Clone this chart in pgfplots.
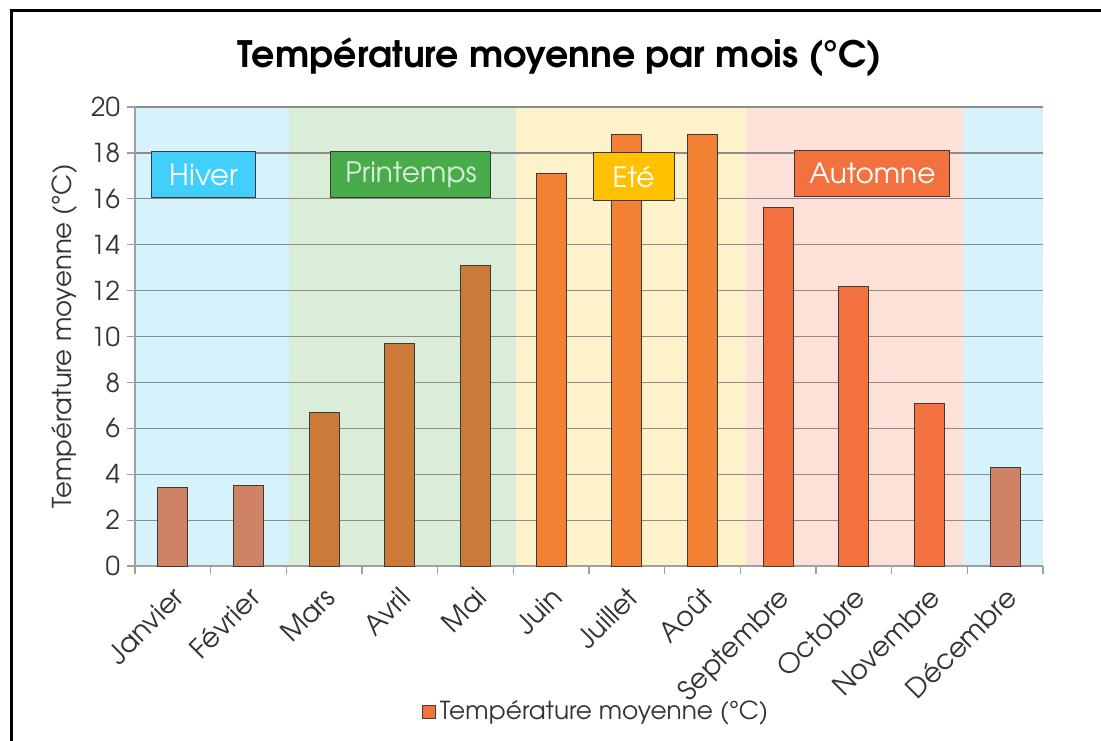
\documentclass[border=0pt]{standalone}
\usepackage{pgfplots}
\pgfplotsset{compat=1.18}
\usepackage{fontspec}
\setmainfont{TeX Gyre Adventor}
\definecolor{winterbg}{HTML}{D6F3FC}
\definecolor{springbg}{HTML}{DAEDD9}
\definecolor{summerbg}{HTML}{FEF2CB}
\definecolor{autumnbg}{HTML}{FDE1D9}
\definecolor{wintbar}{HTML}{CF8266}
\definecolor{springbar}{HTML}{CC7A3A}
\definecolor{summerbar}{HTML}{F38134}
\definecolor{autbar}{HTML}{F2713F}
\definecolor{hiverbox}{HTML}{41CFFD}
\definecolor{printbox}{HTML}{48AC4A}
\definecolor{etebox}{HTML}{FFC100}
\definecolor{autbox}{HTML}{F2713F}
\definecolor{bardraw}{HTML}{3A3A3A}
\definecolor{axgray}{HTML}{A0A0A0}
\definecolor{gridgray}{HTML}{8C8C8C}
\definecolor{labcol}{HTML}{333333}
\pgfplotsset{sqlegend/.style={legend image code/.code={\draw[##1] (0pt,-3.2pt) rectangle (6.4pt,3.2pt);}}}
\begin{document}
\begin{tikzpicture}
\draw[line width=1.5pt] (5.5pt,-10pt) -- (5.5pt,364.5pt) -- (565pt,364.5pt);
\node[font=\bfseries\fontsize{18.2}{22}\selectfont] at (280pt,341.5pt) {Température moyenne par mois (°C)};
\begin{axis}[
  at={(67.5pt,87pt)}, anchor=south west,
  scale only axis, width=454pt, height=229.5pt,
  set layers,
  xmin=-0.5, xmax=11.5, ymin=0, ymax=20,
  axis x line=bottom, axis y line=left,
  axis line style={-, draw=axgray, line width=0.6pt},
  ytick={0,2,...,20},
  ymajorgrids, grid style={gridgray, line width=0.6pt},
  xtick={0,...,11},
  xticklabels={Janvier,Février,Mars,Avril,Mai,Juin,Juillet,Août,Septembre,Octobre,Novembre,Décembre},
  minor xtick={-0.5,0.5,...,11.5},
  major x tick style={draw=none},
  tick align=outside, major tick length=4pt, minor tick length=4pt,
  tick style={axgray, line width=0.6pt},
  xticklabel style={rotate=45, anchor=north east, font=\fontsize{13.6}{15}\selectfont, text=labcol, xshift=-1pt},
  yticklabel style={font=\fontsize{13}{15}\selectfont, text=labcol},
  /pgf/number format/assume math mode=true,
  ylabel={Température moyenne (°C)},
  ylabel style={font=\fontsize{13}{15}\selectfont, text=labcol},
  legend style={at={(0.509,-0.318)}, anchor=center, draw=none, fill=none, font=\fontsize{12.4}{15}\selectfont, text=labcol},
  legend cell align=left,
]
\addplot[on layer=axis background, fill=winterbg, draw=none, forget plot] coordinates {(-0.5,0) (-0.5,20) (1.53,20) (1.53,0)} -- cycle;
\addplot[on layer=axis background, fill=springbg, draw=none, forget plot] coordinates {(1.53,0) (1.53,20) (4.53,20) (4.53,0)} -- cycle;
\addplot[on layer=axis background, fill=summerbg, draw=none, forget plot] coordinates {(4.53,0) (4.53,20) (7.58,20) (7.58,0)} -- cycle;
\addplot[on layer=axis background, fill=autumnbg, draw=none, forget plot] coordinates {(7.58,0) (7.58,20) (10.44,20) (10.44,0)} -- cycle;
\addplot[on layer=axis background, fill=winterbg, draw=none, forget plot] coordinates {(10.44,0) (10.44,20) (11.5,20) (11.5,0)} -- cycle;
\addplot[ybar, bar shift=0pt, bar width=15pt, fill=wintbar, draw=bardraw, line width=0.5pt, forget plot] coordinates {(0,3.4) (1,3.5) (11,4.3)};
\addplot[ybar, bar shift=0pt, bar width=15pt, fill=springbar, draw=bardraw, line width=0.5pt, forget plot] coordinates {(2,6.7) (3,9.7) (4,13.1)};
\addplot[ybar, bar shift=0pt, bar width=15pt, fill=summerbar, draw=bardraw, line width=0.5pt, forget plot] coordinates {(5,17.1) (6,18.8) (7,18.8)};
\addplot[ybar, bar shift=0pt, bar width=15pt, fill=autbar, draw=bardraw, line width=0.5pt, forget plot] coordinates {(8,15.6) (9,12.2) (10,7.1)};
\addlegendimage{sqlegend, fill=autbar, draw=bardraw, line width=0.5pt}
\addlegendentry{Température moyenne (°C)}
\node[fill=hiverbox, draw=bardraw, line width=0.5pt, minimum width=52pt, minimum height=23pt, text=white, font=\fontsize{14.5}{16}\selectfont, text depth=0pt] at (axis cs:0.41,17.04) {Hiver};
\node[fill=printbox, draw=bardraw, line width=0.5pt, minimum width=80pt, minimum height=23pt, text=white!80!printbox, font=\fontsize{14}{16}\selectfont] at (axis cs:3.147,17.04) {Printemps};
\node[fill=etebox, draw=bardraw, line width=0.5pt, minimum width=40.5pt, minimum height=24pt, text=white, font=\fontsize{14}{16}\selectfont, text depth=0pt] at (axis cs:6.088,16.95) {Eté};
\node[fill=autbox, draw=bardraw, line width=0.5pt, minimum width=77.5pt, minimum height=23pt, text=white, font=\fontsize{14}{16}\selectfont, text depth=0pt] at (axis cs:9.246,17.12) {Automne};
\end{axis}
\pgfresetboundingbox
\useasboundingbox (0pt,0pt) rectangle (550.5pt,370pt);
\end{tikzpicture}
\end{document}
